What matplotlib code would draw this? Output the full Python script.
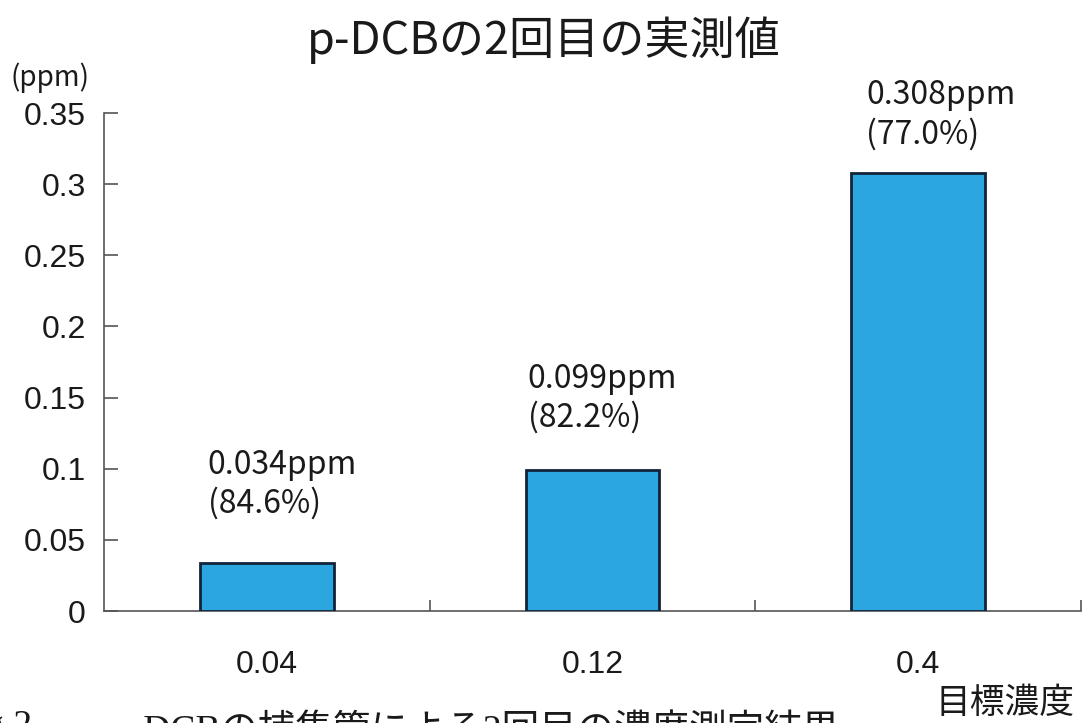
import matplotlib
matplotlib.use("Agg")
import matplotlib.pyplot as plt
from matplotlib.ticker import FixedLocator

plt.rcParams['font.family'] = ['Noto Sans CJK JP', 'DejaVu Sans']

# target concentrations (ppm) and measured values
categories = ["0.04", "0.12", "0.4"]
measured = [0.034, 0.099, 0.308]
recovery = [84.6, 82.2, 77.0]
y_ticks = [0, 0.05, 0.1, 0.15, 0.2, 0.25, 0.3, 0.35]
y_tick_labels = ["0", "0.05", "0.1", "0.15", "0.2", "0.25", "0.3", "0.35"]

fig = plt.figure(figsize=(10.88, 7.23), dpi=100)
ax = fig.add_axes([0.0956, 0.1549, 0.898, 0.6888])

x = list(range(len(categories)))
bars = ax.bar(x, measured, width=0.41, color="#2ba6df",
              edgecolor="#12233a", linewidth=2.0, zorder=3)

ax.set_xlim(-0.5, len(categories) - 0.5)
ax.set_ylim(0, 0.35)

# axes styling
for side in ("top", "right"):
    ax.spines[side].set_visible(False)
for side in ("left", "bottom"):
    ax.spines[side].set_color("#555555")
    ax.spines[side].set_linewidth(1.2)

ax.set_yticks(y_ticks)
ax.set_yticklabels(y_tick_labels, fontsize=23, family=["Liberation Sans", "DejaVu Sans"],
                   color="#1a1a1a")
ax.tick_params(axis="y", direction="in", length=10, width=1.2, color="#555555", pad=13)

ax.set_xticks(x)
ax.set_xticklabels(categories, fontsize=23, color="#1a1a1a",
                   family=["Liberation Sans Narrow", "Liberation Sans", "DejaVu Sans"])
ax.tick_params(axis="x", which="major", length=0, pad=28)
ax.xaxis.set_minor_locator(FixedLocator([i + 0.5 for i in x]))
ax.tick_params(axis="x", which="minor", direction="in", length=8, width=1.2, color="#555555")

# value labels above the bars (offsets in pixels from each bar's top centre)
label_offsets = [(-59, 78), (-65, 72), (-52, 58)]
for xi, v, r, off in zip(x, measured, recovery, label_offsets):
    ax.annotate(f"{v:.3f}ppm\n({r:.1f}%)", xy=(xi, v), xytext=off,
                textcoords="offset pixels", ha="left", va="center",
                fontsize=23, linespacing=1.24, color="#1a1a1a")

fig.text(0.5, 0.945, "p-DCBの2回目の実測値", ha="center", va="center",
         fontsize=32.5, color="#1a1a1a")
fig.text(0.0092, 0.893, "(ppm)", ha="left", va="center", fontsize=20, color="#1a1a1a")
fig.text(0.988, 0.027, "目標濃度", ha="right", va="center", fontsize=25, color="#1a1a1a")

# figure caption along the lower edge
caption_font = ["Liberation Serif", "Noto Sans CJK JP"]
fig.text(0.080, 1 - 709 / 723, "p－DCBの捕集管による2回目の濃度測定結果", ha="left",
         va="top", fontsize=27, color="#1a1a1a", family=caption_font)
fig.text(0.030, 1 - 709 / 723, "Fig.2", ha="right", va="top", fontsize=27,
         color="#1a1a1a", family=caption_font)

fig.savefig("out.png", dpi=100)
